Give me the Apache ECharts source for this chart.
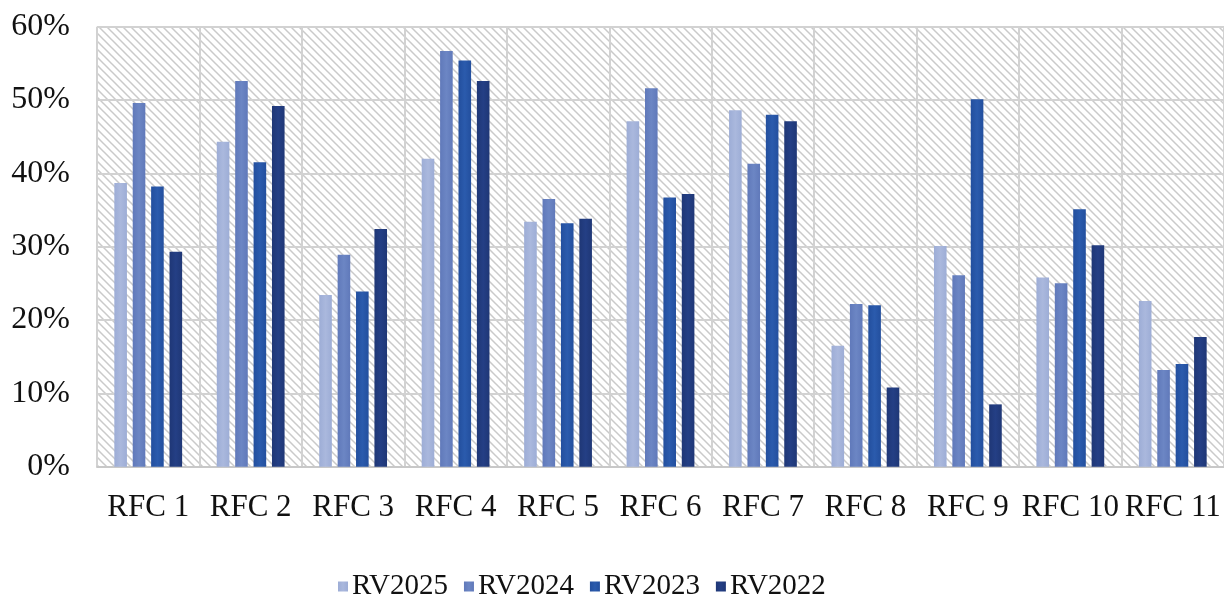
<!DOCTYPE html>
<html>
<head>
<meta charset="utf-8">
<script src="https://cdn.jsdelivr.net/npm/echarts@6/dist/echarts.min.js"></script>
<style>
html,body{margin:0;padding:0;background:#fff;}
#chart{width:1224px;height:601px;}
</style>
</head>
<body>
<div id="chart"></div>
<script>
const categories = ['RFC 1','RFC 2','RFC 3','RFC 4','RFC 5','RFC 6','RFC 7','RFC 8','RFC 9','RFC 10','RFC 11'];
const seriesNames = ['RV2025','RV2024','RV2023','RV2022'];
const rv2025 = [38.7, 44.3, 23.4, 42.0, 33.4, 47.1, 48.6, 16.5, 30.1, 25.8, 22.6];
const rv2024 = [49.6, 52.6, 28.9, 56.7, 36.5, 51.6, 41.3, 22.2, 26.1, 25.0, 13.2];
const rv2023 = [38.2, 41.5, 23.9, 55.4, 33.2, 36.7, 48.0, 22.0, 50.1, 35.1, 14.0];
const rv2022 = [29.3, 49.2, 32.4, 52.6, 33.8, 37.2, 47.1, 10.8, 8.5, 30.2, 17.7];
const yTicks = [0, 10, 20, 30, 40, 50, 60];

const colors = ['#aab8dd', '#6c86c4', '#2b5bad', '#243f85'];
const edges  = ['#9dadd6', '#6079ba', '#234f9e', '#1f3776'];

function hatch() {
  const c = document.createElement('canvas');
  c.width = 8; c.height = 8;
  const g = c.getContext('2d');
  g.fillStyle = '#ffffff';
  g.fillRect(0, 0, 8, 8);
  g.strokeStyle = '#cacaca';
  g.lineWidth = 1.5;
  g.beginPath();
  g.moveTo(-2, -2); g.lineTo(10, 10);
  g.moveTo(-10, -2); g.lineTo(2, 10);
  g.moveTo(6, -2); g.lineTo(18, 10);
  g.stroke();
  return c;
}

function grad(i) {
  return new echarts.graphic.LinearGradient(0, 0, 1, 0, [
    {offset: 0, color: edges[i]},
    {offset: 0.5, color: colors[i]},
    {offset: 1, color: edges[i]}
  ]);
}

const dataSets = [rv2025, rv2024, rv2023, rv2022];
const font = '"Liberation Serif", "DejaVu Serif", serif';

const chart = echarts.init(document.getElementById('chart'), null, {renderer: 'canvas'});
chart.setOption({
  animation: false,
  backgroundColor: '#ffffff',
  textStyle: {fontFamily: font},
  grid: {
    left: 97, right: 0, top: 26.7, bottom: 134.3,
    show: true,
    backgroundColor: {image: hatch(), repeat: 'repeat'},
    borderWidth: 0
  },
  legend: {
    left: 333, top: 567,
    itemWidth: 10, itemHeight: 10, itemGap: 16,
    icon: 'rect',
    textStyle: {fontFamily: font, fontSize: 29, color: '#111', padding: [0, 0, 0, -1]},
    data: seriesNames
  },
  xAxis: {
    type: 'category',
    data: categories,
    axisLine: {show: true, lineStyle: {color: '#c8c8c8', width: 2}},
    axisTick: {show: false},
    splitLine: {show: true, lineStyle: {color: '#d2d2d2', width: 2}},
    axisLabel: {fontFamily: font, fontSize: 31, color: '#111', margin: 26, interval: 0}
  },
  yAxis: {
    type: 'value',
    min: yTicks[0], max: yTicks[yTicks.length - 1], interval: 10,
    axisLine: {show: false},
    axisTick: {show: false},
    splitLine: {show: true, lineStyle: {color: '#d2d2d2', width: 2}},
    axisLabel: {fontFamily: font, fontSize: 32, color: '#111', margin: 27, formatter: '{value}%'}
  },
  series: seriesNames.map((name, i) => ({
    name: name,
    type: 'bar',
    data: dataSets[i],
    barWidth: 12.6,
    barGap: '46%',
    itemStyle: {color: grad(i)},
    emphasis: {disabled: true}
  })),
  color: colors
});
</script>
</body>
</html>
